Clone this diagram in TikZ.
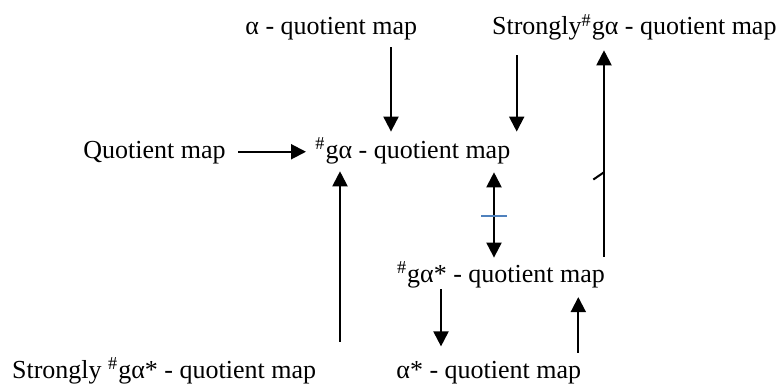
\documentclass[tikz,border=0pt]{standalone}
\usepackage{fontspec}
\setmainfont{Liberation Serif}
\usepackage{xcolor}
\usetikzlibrary{arrows.meta}
\definecolor{tickblue}{RGB}{79,129,189}

\begin{document}
\begin{tikzpicture}[x=0.5pt, y=-0.5pt, font=\fontsize{13}{15}\selectfont,
    lbl/.style={anchor=base west, inner sep=0pt, text height=9.1pt, text depth=2.85pt},
    arr/.style={line width=1pt, -{Triangle[length=7.5pt,width=7.5pt]}},
    dbl/.style={line width=1pt, {Triangle[length=7.5pt,width=7.5pt]}-{Triangle[length=7.5pt,width=7.5pt]}}]
    \useasboundingbox (0,0) rectangle (781,385);

    % maps
    \node[lbl] (alpha) at (245,35) {α - quotient map};
    \node[lbl] (strongA) at (491.7,35) {Strongly\textsuperscript{\#}gα - quotient map};
    \node[lbl] (quot) at (83,158) {Quotient map};
    \node[lbl] (gq) at (315,158) {\textsuperscript{\#}gα - quotient map};
    \node[lbl] (gqs) at (396.7,282) {\textsuperscript{\#}gα* - quotient map};
    \node[lbl] (strongB) at (11.7,378) {Strongly \textsuperscript{\#}gα* - quotient map};
    \node[lbl] (alphas) at (396,378) {α* - quotient map};

    % columns of the vertical arrows
    \coordinate (c1) at (340,0);
    \coordinate (c2) at (391,0);
    \coordinate (c3) at (441,0);
    \coordinate (c4) at (494,0);
    \coordinate (c5) at (516.7,0);
    \coordinate (c6) at (578.3,0);
    \coordinate (c7) at (604,0);

    % arrows into #g alpha
    \draw[arr, shorten <=6pt, shorten >=4.5pt] (quot) -- (gq);
    \draw[arr, shorten <=3.2pt, shorten >=3.9pt] (alpha.south -| c2) -- (gq.north -| c2);
    \draw[arr, shorten <=7.2pt, shorten >=3.9pt] (strongA.south -| c5) -- (gq.north -| c5);
    \draw[arr, shorten <=8.9pt, shorten >=3.6pt] (strongB.north -| c1) -- (gq.south -| c1);

    % #g alpha <-> #g alpha*, crossed out
    \draw[dbl, shorten <=4.1pt, shorten >=2.9pt] (gq.south -| c4) -- (gqs.north -| c4) coordinate[pos=0.52] (mid);
    \draw[tickblue, line width=0.8pt] ([xshift=-6.5pt]mid) -- ([xshift=6.5pt]mid);

    % #g alpha* and the others
    \draw[arr, shorten <=3.4pt, shorten >=4.6pt] (gqs.north -| c7) -- (strongA.south -| c7) coordinate[pos=0.41] (cut);
    \draw[line width=1pt] (cut) -- ++(-10.7,7.3);
    \draw[arr, shorten <=0.6pt, shorten >=6.5pt] (gqs.south -| c3) -- (alphas.north -| c3);
    \draw[arr, shorten <=3.4pt, shorten >=4.5pt] (alphas.north -| c6) -- (gqs.south -| c6);
\end{tikzpicture}
\end{document}
